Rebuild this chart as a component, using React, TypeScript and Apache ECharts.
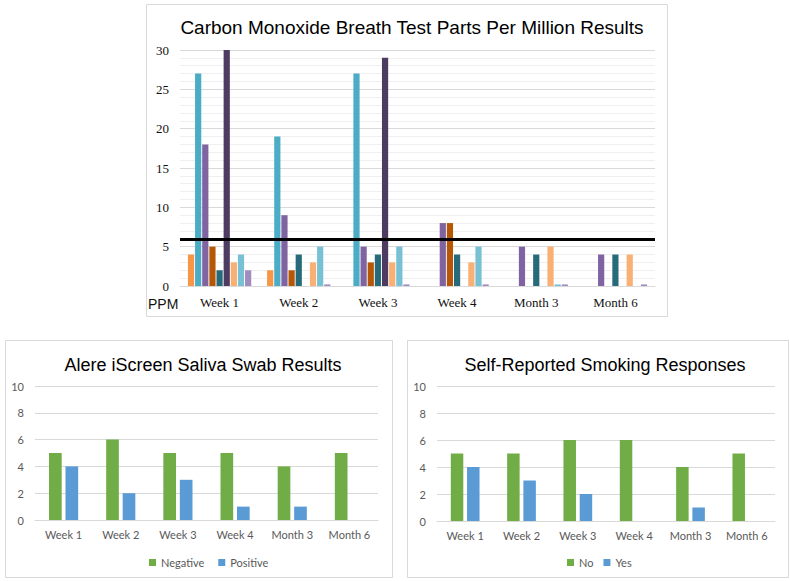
import React, { useEffect, useRef } from "react";
import * as echarts from "echarts";

// Shared time points for all three panels
const categories = ["Week 1", "Week 2", "Week 3", "Week 4", "Month 3", "Month 6"];

// Carbon monoxide breath test readings (ppm), one array per participant
const coNames = ["P1", "P2", "P3", "P4", "P5", "P6", "P7", "P8", "P9"];
const coP1 = [4, 2, 0, 0, 0, 0];
const coP2 = [27, 19, 27, 0, 0, 0];
const coP3 = [18, 9, 5, 8, 5, 4];
const coP4 = [5, 2, 3, 8, 0, 0];
const coP5 = [2, 4, 4, 4, 4, 4];
const coP6 = [30, 0, 29, 0, 0, 0];
const coP7 = [3, 3, 3, 3, 5, 4];
const coP8 = [4, 5, 5, 5, 0.2, 0];
const coP9 = [2, 0.2, 0.2, 0.2, 0.2, 0.2];
const coColors = ["#F79646", "#4BACC6", "#8064A2", "#B65708", "#276A7C", "#4D3B62", "#F9B074", "#78C0D4", "#A08CBE"];
const coCutoff = 6;
const coTicks = { min: 0, max: 30, interval: 5 };

// Saliva swab counts
const swabNegative = [5, 6, 5, 5, 4, 5];
const swabPositive = [4, 2, 3, 1, 1, 0];

// Self-reported smoking counts
const selfNo = [5, 5, 6, 6, 4, 5];
const selfYes = [4, 3, 2, 0, 1, 0];

const countTicks = { min: 0, max: 10, interval: 2 };

const GREEN = "#70AD47";
const BLUE = "#5B9BD5";
const GREY_TEXT = "#595959";
const SANS = "Liberation Sans, Arial, sans-serif";
const SERIF = "Liberation Serif, Times New Roman, serif";
const SMALL = "Lato, sans-serif";

export default function App() {
  const ref = useRef<HTMLDivElement>(null);

  useEffect(() => {
    if (!ref.current) return;
    const chart = echarts.init(ref.current, null, { renderer: "svg" });

    const coData = [coP1, coP2, coP3, coP4, coP5, coP6, coP7, coP8, coP9];

    const coSeries = coData.map((d, i) => ({
      name: coNames[i],
      type: "bar",
      xAxisIndex: 0,
      yAxisIndex: 0,
      data: d,
      barGap: "15%",
      barCategoryGap: "20%",
      itemStyle: { color: coColors[i] },
      z: 2,
      ...(i === 0
        ? {
            markLine: {
              silent: true,
              symbol: ["none", "none"],
              label: { show: false },
              lineStyle: { color: "#000", width: 3, type: "solid" },
              data: [{ yAxis: coCutoff }],
              z: 5,
            },
          }
        : {}),
    }));

    const smallCat = (gridIndex: number) => ({
      type: "category",
      gridIndex,
      data: categories,
      axisTick: { show: false },
      axisLine: { lineStyle: { color: "#d9d9d9" } },
      axisLabel: { color: GREY_TEXT, fontFamily: SMALL, fontSize: 11, margin: 9 },
    });
    const smallVal = (gridIndex: number) => ({
      type: "value",
      gridIndex,
      ...countTicks,
      axisLine: { show: false },
      axisTick: { show: false },
      splitLine: { lineStyle: { color: "#d9d9d9" } },
      axisLabel: { color: GREY_TEXT, fontFamily: SMALL, fontSize: 11, margin: 11 },
    });

    const pairBar = (name: string, data: number[], idx: number, color: string) => ({
      name,
      type: "bar",
      xAxisIndex: idx,
      yAxisIndex: idx,
      data,
      barGap: "30%",
      barCategoryGap: "49%",
      itemStyle: { color },
    });

    chart.setOption({
      animation: false,
      backgroundColor: "#fff",
      title: [
        {
          text: "Carbon Monoxide Breath Test Parts Per Million Results",
          left: 407,
          top: 13,
          textAlign: "center",
          textStyle: { fontFamily: SANS, fontSize: 19, fontWeight: "normal", color: "#000" },
        },
        {
          text: "Alere iScreen Saliva Swab Results",
          left: 198,
          top: 351,
          textAlign: "center",
          textStyle: { fontFamily: SANS, fontSize: 18, fontWeight: "normal", color: "#000" },
        },
        {
          text: "Self-Reported Smoking Responses",
          left: 600,
          top: 351,
          textAlign: "center",
          textStyle: { fontFamily: SANS, fontSize: 18, fontWeight: "normal", color: "#000" },
        },
      ],
      legend: [
        {
          data: ["Negative", "Positive"],
          left: 144,
          top: 552,
          icon: "rect",
          itemWidth: 7,
          itemHeight: 7,
          itemGap: 14,
          textStyle: { color: GREY_TEXT, fontFamily: SMALL, fontSize: 11 },
        },
        {
          data: ["No", "Yes"],
          left: 562,
          top: 552,
          icon: "rect",
          itemWidth: 7,
          itemHeight: 7,
          itemGap: 10,
          textStyle: { color: GREY_TEXT, fontFamily: SMALL, fontSize: 11 },
        },
      ],
      grid: [
        { left: 180, top: 50, width: 475, height: 236 },
        { left: 35, top: 386, width: 343, height: 134 },
        { left: 437, top: 386, width: 338, height: 135 },
      ],
      xAxis: [
        {
          type: "category",
          gridIndex: 0,
          data: categories,
          axisTick: { show: false },
          axisLine: { lineStyle: { color: "#d9d9d9" } },
          axisLabel: { color: "#111", fontFamily: SERIF, fontSize: 13, margin: 10 },
        },
        smallCat(1),
        smallCat(2),
      ],
      yAxis: [
        {
          type: "value",
          gridIndex: 0,
          ...coTicks,
          axisLine: { show: false },
          axisTick: { show: false },
          splitLine: { lineStyle: { color: "#d9d9d9" } },
          minorTick: { show: false, splitNumber: 5 },
          minorSplitLine: { show: true, lineStyle: { color: "#efefef" } },
          axisLabel: { color: "#111", fontFamily: SERIF, fontSize: 13, margin: 11 },
        },
        smallVal(1),
        smallVal(2),
      ],
      graphic: [
        { type: "rect", shape: { x: 146.5, y: 4.5, width: 521, height: 312 }, style: { fill: "none", stroke: "#d9d9d9", lineWidth: 1 }, silent: true },
        { type: "rect", shape: { x: 5.5, y: 340.5, width: 387, height: 237 }, style: { fill: "none", stroke: "#d9d9d9", lineWidth: 1 }, silent: true },
        { type: "rect", shape: { x: 407.5, y: 340.5, width: 381, height: 237 }, style: { fill: "none", stroke: "#d9d9d9", lineWidth: 1 }, silent: true },
        { type: "text", x: 148, y: 297, style: { text: "PPM", fill: "#111", font: "14px " + SANS } },
      ],
      series: [
        ...coSeries,
        pairBar("Negative", swabNegative, 1, GREEN),
        pairBar("Positive", swabPositive, 1, BLUE),
        pairBar("No", selfNo, 2, GREEN),
        pairBar("Yes", selfYes, 2, BLUE),
      ],
    });

    return () => chart.dispose();
  }, []);

  return (
    <div
      ref={ref}
      style={{ position: "absolute", left: 0, top: 0, width: 790, height: 581, background: "#fff" }}
    />
  );
}
